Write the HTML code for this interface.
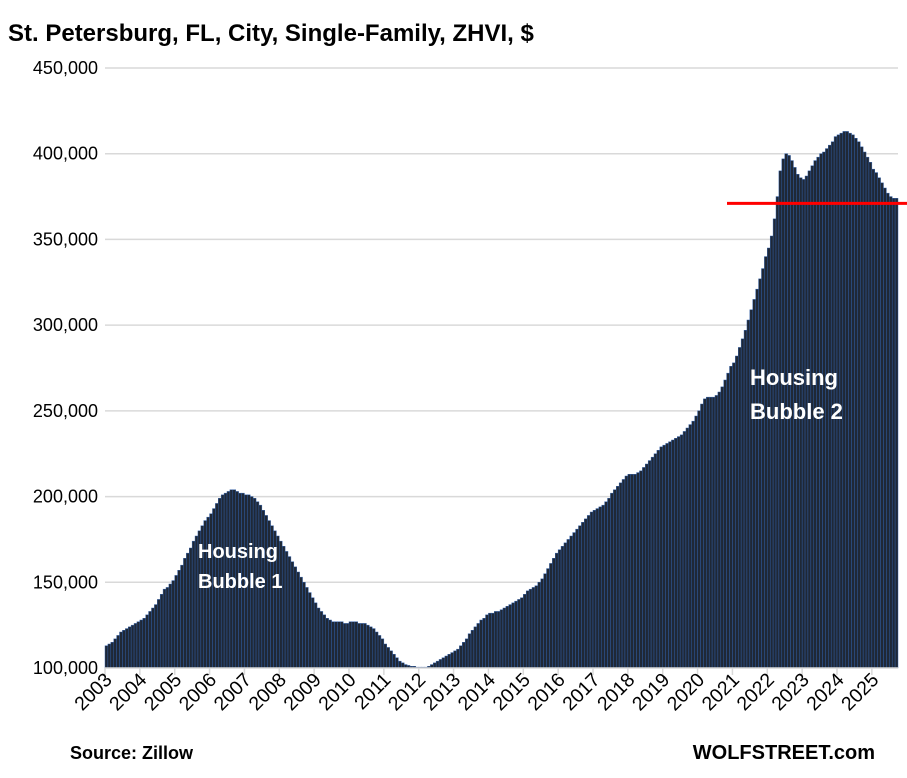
<!DOCTYPE html>
<html><head><meta charset="utf-8"><style>
body{margin:0;background:#fff;}
svg text{font-family:"Liberation Sans",sans-serif;}
</style></head><body>
<svg width="907" height="773" xmlns="http://www.w3.org/2000/svg">
<text x="8" y="41" font-size="24" font-weight="bold" fill="#000">St. Petersburg, FL, City, Single-Family, ZHVI, $</text>
<g id="grid"></g><g id="bars"></g><g id="xaxis"></g>
<line x1="727" x2="907" id="refline" stroke="#ff0000" stroke-width="3"/>
<text x="198" y="558" font-size="20" font-weight="bold" fill="#fff"><tspan x="198">Housing</tspan><tspan x="198" dy="30">Bubble 1</tspan></text>
<text x="750" y="385" font-size="22" font-weight="bold" fill="#fff"><tspan x="750">Housing</tspan><tspan x="750" dy="34">Bubble 2</tspan></text>
<text x="70" y="759" font-size="18" font-weight="bold">Source: Zillow</text>
<text x="875" y="759" font-size="20" font-weight="bold" text-anchor="end">WOLFSTREET.com</text>
</svg>
<script>
const years=["2003","2004","2005","2006","2007","2008","2009","2010","2011","2012","2013","2014","2015","2016","2017","2018","2019","2020","2021","2022","2023","2024","2025"];
const yTicks=[100,150,200,250,300,350,400,450];
const refValue=371;
const values=[
113,114,115,117,119,121,122,123,124,125,126,127,
128,129,131,133,135,137,140,143,146,147,149,151,
154,157,160,164,167,170,174,177,180,183,186,188,
190,193,196,199,201,202,203,204,204,203,202,202,
201,201,200,199,197,195,192,189,186,183,180,177,
174,171,168,165,162,159,156,153,150,147,144,141,
138,135,133,131,129,128,127,127,127,127,126,126,
127,127,127,126,126,126,125,124,123,121,119,117,
114,112,110,108,106,104,103,102,101.5,101,101,100.5,
100.5,100.5,100.5,101,102,103,104,105,106,107,108,109,
110,111,113,115,117,120,122,124,126,128,129,131,
132,132,133,133,134,135,136,137,138,139,140,141,
143,145,146,147,148,150,152,155,158,161,164,167,
169,171,173,175,177,179,181,183,185,187,189,191,
192,193,194,195,197,199,202,204,206,208,210,212,
213,213,213,214,215,217,219,221,223,225,227,229,
230,231,232,233,234,235,236,238,240,242,244,247,
250,254,257,258,258,258,259,261,264,268,272,276,
278,282,287,292,297,303,309,315,321,327,333,340,
345,352,362,375,390,397,400,399,396,392,388,386,
385,387,390,393,396,398,400,401,403,405,407,410,
411,412,413,413,412,411,409,407,404,401,398,395,
391,389,386,383,380,377,375,374,374];
const NS="http://www.w3.org/2000/svg";
const X0=105,X1=898,Y0=668,Y1=68,YMIN=100,YMAX=450;
const step=(X1-X0)/273;
function y(v){return Y0-(v-YMIN)/(YMAX-YMIN)*(Y0-Y1);}
function x(i){return X0+i*step;}
function mk(t,a){const e=document.createElementNS(NS,t);for(const k in a)e.setAttribute(k,a[k]);return e;}
const grid=document.getElementById('grid');
yTicks.forEach(v=>{
 if(v>YMIN){const l=mk('line',{x1:X0,x2:X1,y1:y(v),y2:y(v),stroke:'#d9d9d9','stroke-width':1.5});
 
 
 grid.appendChild(l);}
 const t=mk('text',{x:98,y:y(v)+6,'text-anchor':'end','font-size':18,fill:'#000'});
 t.textContent=v.toLocaleString('en-US')+',000';
 
 
 grid.appendChild(t);
});
const bars=document.getElementById('bars');
values.forEach((v,i)=>{
 const r=mk('rect',{x:x(i),y:y(v),width:step,height:Y0-y(v),fill:'#1f2836',stroke:'#2f5ea8','stroke-width':0.45});
 
 
 bars.appendChild(r);
});
const xa=document.getElementById('xaxis');
const ax=mk('line',{x1:X0,x2:X1,y1:Y0,y2:Y0,stroke:'#d9d9d9','stroke-width':1.5});


xa.appendChild(ax);
years.forEach((yr,k)=>{
 const xx=x(k*12);
 const tk=mk('line',{x1:xx,x2:xx,y1:Y0,y2:Y0+7,stroke:'#d9d9d9','stroke-width':1.5});
 
 
 xa.appendChild(tk);
 const t=mk('text',{x:xx+8,y:Y0+13,'text-anchor':'end','font-size':19.5,transform:`rotate(-45 ${xx+8} ${Y0+13})`});
 t.textContent=yr;
 
 
 xa.appendChild(t);
});
const rl=document.getElementById('refline');
rl.setAttribute('y1',y(refValue));rl.setAttribute('y2',y(refValue));
</script>
</body></html>
